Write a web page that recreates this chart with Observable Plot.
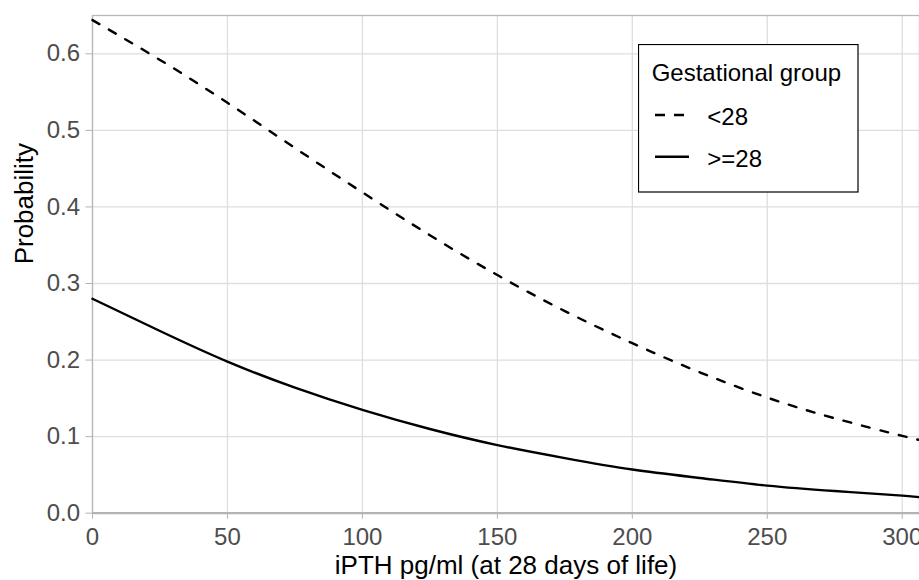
<!DOCTYPE html>
<html>
<head>
<meta charset="utf-8">
<script src="https://cdn.jsdelivr.net/npm/d3@7"></script>
<script src="https://cdn.jsdelivr.net/npm/@observablehq/plot@0.6"></script>
<style>
  html, body { margin: 0; padding: 0; background: #fff; overflow: hidden; }
  #wrap { position: relative; width: 919px; height: 580px; font-family: "Liberation Sans", Arial, sans-serif; }
  #legend { position: absolute; left: 638px; top: 44px; }
</style>
</head>
<body>
<div id="wrap"></div>
<script>
// Data
const ipth = [0, 25, 50, 75, 100, 125, 150, 175, 200, 225, 250, 275, 300, 306];
const probUnder28 = [0.644, 0.592, 0.536, 0.477, 0.419, 0.363, 0.311, 0.264, 0.222, 0.184, 0.151, 0.124, 0.101, 0.096];
const probOver28 = [0.280, 0.238, 0.198, 0.164, 0.135, 0.110, 0.089, 0.072, 0.057, 0.046, 0.036, 0.029, 0.023, 0.021];
const groups = ["<28", ">=28"];
const xTicks = [0, 50, 100, 150, 200, 250, 300];
const yTicks = [0, 0.1, 0.2, 0.3, 0.4, 0.5, 0.6];
const xTitle = "iPTH pg/ml (at 28 days of life)";
const yTitle = "Probability";
const legendTitle = "Gestational group";

const under = ipth.map((x, i) => ({x, p: probUnder28[i], g: groups[0]}));
const over = ipth.map((x, i) => ({x, p: probOver28[i], g: groups[1]}));

const font = "Liberation Sans, Arial, sans-serif";

const chart = Plot.plot({
  width: 919,
  height: 580,
  marginLeft: 92,
  marginRight: 0,
  marginTop: 15,
  marginBottom: 67.3,
  style: {fontFamily: font, background: "#fff", overflow: "visible"},
  x: {domain: [0, 306.4]},
  y: {domain: [0, 0.65]},
  marks: [
    Plot.gridX(xTicks, {stroke: "#dedede", strokeOpacity: 1, strokeWidth: 1.3}),
    Plot.gridY(yTicks, {stroke: "#dedede", strokeOpacity: 1, strokeWidth: 1.3}),
    Plot.frame({stroke: "#b8b8b8", strokeWidth: 1.3}),
    Plot.ruleY([0], {stroke: "#b3b3b3", strokeWidth: 2.2}),
    Plot.axisX({ticks: xTicks, tickSize: 6, tickPadding: 9, fontSize: 24, stroke: "#b3b3b3", fill: "#4d4d4d", label: null, tickFormat: d3.format("d")}),
    Plot.axisY({ticks: yTicks, tickSize: 6.5, tickPadding: 6, fontSize: 24, stroke: "#b3b3b3", fill: "#4d4d4d", label: null, tickFormat: d3.format(".1f")}),
    Plot.line(under, {x: "x", y: "p", stroke: "#000", strokeWidth: 2.4, strokeDasharray: "8,11", curve: "natural"}),
    Plot.line(over, {x: "x", y: "p", stroke: "#000", strokeWidth: 2.4, curve: "natural"}),
    Plot.text([xTitle], {frameAnchor: "bottom", lineAnchor: "bottom", dy: 61, fontSize: 26, fill: "#000", fontFamily: font}),
    Plot.text([yTitle], {frameAnchor: "left", lineAnchor: "bottom", rotate: -90, dx: -60, fontSize: 26, fill: "#000", fontFamily: font})
  ]
});
document.getElementById("wrap").appendChild(chart);

// Legend
const lg = d3.select("#wrap").append("svg")
  .attr("id", "legend")
  .attr("width", 221).attr("height", 149)
  .style("font-family", font);
lg.append("rect").attr("x", 0.5).attr("y", 0.5).attr("width", 219.5).attr("height", 147.5)
  .attr("fill", "#fff").attr("stroke", "#000").attr("stroke-width", 1.2);
lg.append("text").attr("x", 13.7).attr("y", 36.7).attr("font-size", 24).attr("fill", "#000").text(legendTitle);
const items = [{g: groups[0], dash: "10,9", y: 71}, {g: groups[1], dash: null, y: 112.7}];
items.forEach(it => {
  lg.append("line").attr("x1", 17).attr("x2", 51).attr("y1", it.y).attr("y2", it.y)
    .attr("stroke", "#000").attr("stroke-width", 2.4).attr("stroke-dasharray", it.dash);
  lg.append("text").attr("x", 69.3).attr("y", it.y + 10).attr("font-size", 24).attr("fill", "#000").text(it.g);
});
</script>
</body>
</html>
